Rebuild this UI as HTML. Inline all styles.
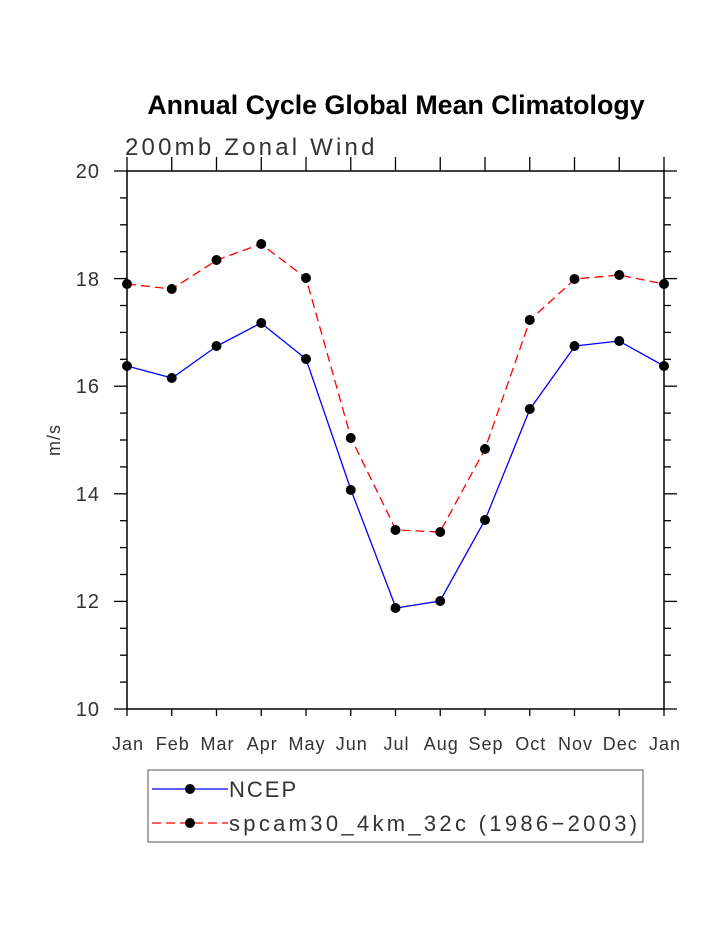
<!DOCTYPE html>
<html><head><style>body{margin:0;background:#fff}svg{display:block}text{font-family:"Liberation Sans",sans-serif}</style></head>
<body>
<svg width="723" height="935" xmlns="http://www.w3.org/2000/svg">
<text x="396" y="114" text-anchor="middle" font-size="26.8" font-weight="bold">Annual Cycle Global Mean Climatology</text>
<text x="125" y="155" font-size="24" fill="#333" letter-spacing="3.2">200mb Zonal Wind</text>
<rect x="127" y="171" width="537" height="538" fill="none" stroke="#000" stroke-width="1.5"/>
<g stroke="#000" stroke-width="1.3" id="ticks"></g>
<g font-size="20" fill="#333" text-anchor="end" letter-spacing="1">
<text x="100" y="178">20</text><text x="100" y="286">18</text><text x="100" y="393">16</text>
<text x="100" y="501">14</text><text x="100" y="608">12</text><text x="100" y="716">10</text>
</g>
<text transform="translate(60,440) rotate(-90)" text-anchor="middle" font-size="18" fill="#333" letter-spacing="1">m/s</text>
<g font-size="18" fill="#333" text-anchor="middle" letter-spacing="1" id="months"></g>
<polyline fill="none" stroke="#f00" stroke-width="1.3" stroke-dasharray="9,5" points="127,284 172,289 217,260 261,244 306,278 351,438 396,530 440,532 485,449 530,320 575,279 619,275 664,284"/>
<polyline fill="none" stroke="#00f" stroke-width="1.3" points="127,366 172,378 217,346 261,323 306,359 351,490 396,608 440,601 485,520 530,409 575,346 619,341 664,366"/>
<g id="dots"></g>
<rect x="148" y="770" width="495" height="72" fill="none" stroke="#555" stroke-width="1"/>
<line x1="152" y1="789" x2="228" y2="789" stroke="#00f" stroke-width="1.3"/>
<circle cx="190" cy="789" r="5"/>
<text x="229" y="797" font-size="22" fill="#333" letter-spacing="2">NCEP</text>
<line x1="152" y1="823" x2="228" y2="823" stroke="#f00" stroke-width="1.3" stroke-dasharray="9,5"/>
<circle cx="190" cy="823" r="5"/>
<text x="229" y="831" font-size="22" fill="#333" letter-spacing="3.3">spcam30_4km_32c (1986−2003)</text>
<script>
var ns="http://www.w3.org/2000/svg",t=document.getElementById("ticks"),m=document.getElementById("months"),d=document.getElementById("dots");
function L(a,b,c,e){var l=document.createElementNS(ns,"line");l.setAttribute("x1",a);l.setAttribute("y1",b);l.setAttribute("x2",c);l.setAttribute("y2",e);t.appendChild(l);}
for(var i=0;i<=20;i++){var y=171+i*538/20,len=i%4==0?13:7;L(127-len,y,127,y);L(664,y,664+len,y);}
var mn=["Jan","Feb","Mar","Apr","May","Jun","Jul","Aug","Sep","Oct","Nov","Dec","Jan"];
for(var i=0;i<13;i++){var x=127+i*537/12;L(x,157,x,171);L(x,709,x,716);
var tx=document.createElementNS(ns,"text");tx.setAttribute("x",x+1);tx.setAttribute("y",750);tx.textContent=mn[i];m.appendChild(tx);}
var a=[366,378,346,323,359,490,608,601,520,409,346,341,366],b=[284,289,260,244,278,438,530,532,449,320,279,275,284];
for(var i=0;i<13;i++){[a[i],b[i]].forEach(function(y){var c=document.createElementNS(ns,"circle");c.setAttribute("cx",127+i*537/12);c.setAttribute("cy",y);c.setAttribute("r",5);d.appendChild(c);});}
</script>
</svg>
</body></html>
